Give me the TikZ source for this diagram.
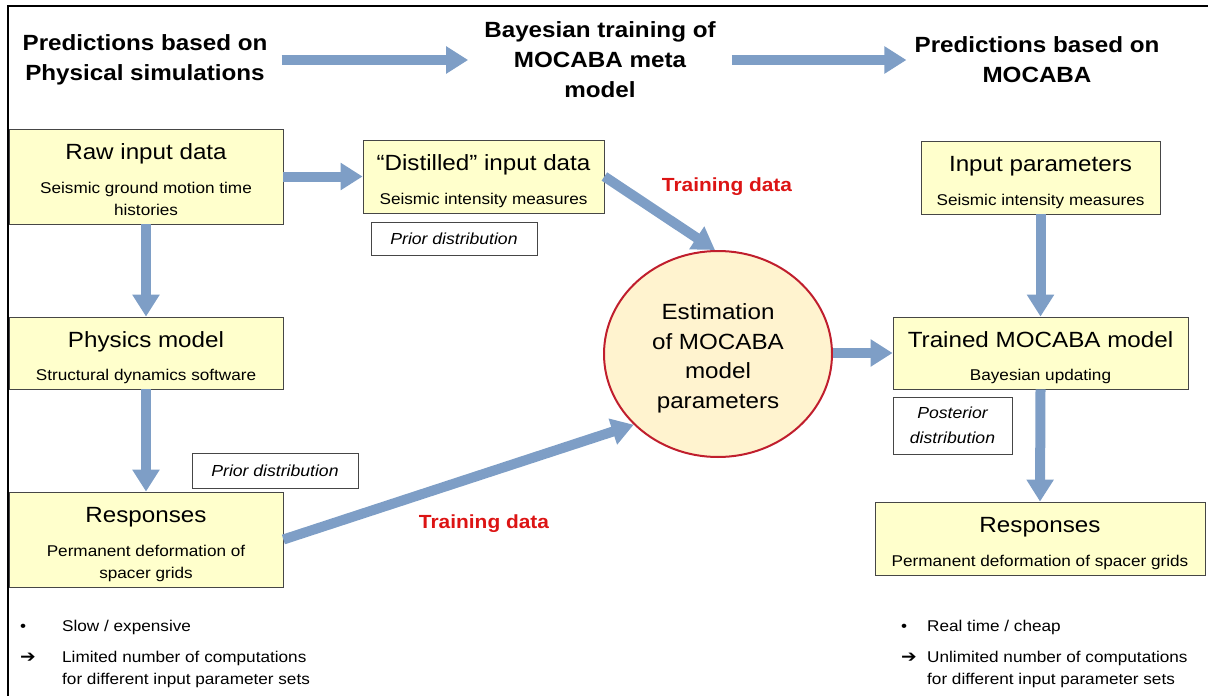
\documentclass[tikz,border=0pt]{standalone}
\usepackage{fontspec}
\setmainfont{Liberation Sans}[FakeStretch=1.1]
\newfontfamily\symfont{DejaVu Sans}[FakeStretch=1.1]
\usetikzlibrary{arrows.meta,shapes.geometric,calc}
\definecolor{boxfill}{RGB}{255,255,204}
\definecolor{circfill}{RGB}{255,243,207}
\definecolor{circline}{RGB}{192,30,45}
\definecolor{boxline}{RGB}{70,70,70}
\definecolor{arrowblue}{RGB}{126,158,198}
\definecolor{trainred}{RGB}{220,20,20}
\newcommand\ftitle{\fontsize{22}{26}\selectfont\rule{0pt}{27pt}}
\newcommand\fsub{\fontsize{15.6}{22}\selectfont}
\newcommand\fend{\rule[-5pt]{0pt}{5pt}}
\newcommand\fhead{\fontsize{22}{30}\selectfont\bfseries}
\newcommand\fital{\fontsize{16}{24}\selectfont\itshape}
\tikzset{
  box/.style={draw=boxline, fill=boxfill, line width=0.8pt, align=center, inner sep=0pt, font=\fsub},
  ibox/.style={draw=boxline, fill=white, line width=0.8pt, align=center, inner sep=0pt, font=\fital},
  flow/.style={draw=arrowblue, line width=10pt, -{Triangle[length=22pt,width=26pt]}},
  head/.style={font=\fhead, align=center, inner sep=0pt},
  train/.style={font=\fontsize{19}{22}\selectfont\bfseries, text=trainred, inner sep=0pt},
  note/.style={font=\fsub, align=left, anchor=north west, inner sep=0pt},
}
\begin{document}
\begin{tikzpicture}[x=1pt,y=-1pt]
\useasboundingbox (0,0) rectangle (1208,696);
\draw[line width=1.6pt] (8,696) -- (8,6) -- (1208,6);

% headers
\node[head] (hdr1) at (145,60) {Predictions based on\\Physical simulations};
\node[head] (hdr2) at (600,60) {Bayesian training of\\MOCABA meta\\model};
\node[head] (hdr3) at (1037,60) {Predictions based on\\MOCABA};

% left column
\node[box, minimum width=274, minimum height=95] (raw) at (146,176.5)
  {{\ftitle Raw input data}\\[11.5pt]Seismic ground motion time\\histories\fend};
\node[box, minimum width=274, minimum height=72] (phys) at (146,353)
  {{\ftitle Physics model}\\[11.5pt]Structural dynamics software\fend};
\node[box, minimum width=274, minimum height=95] (respl) at (146,539.5)
  {{\ftitle Responses}\\[11.5pt]Permanent deformation of\\spacer grids\fend};
\node[ibox, minimum width=166, minimum height=35] (prior2) at (275,470.5) {Prior distribution};

% middle
\node[box, minimum width=241, minimum height=73] (dist) at (483.5,176.5)
  {{\ftitle “Distilled” input data}\\[11.5pt]Seismic intensity measures\fend};
\node[ibox, minimum width=166, minimum height=33] (prior1) at (454,238.5) {Prior distribution};
\node[ellipse, draw=circline, fill=circfill, line width=2pt, minimum width=228, minimum height=206,
  inner sep=0pt] (est) at (718,354) {};
\node[align=center, inner sep=0pt, font=\fontsize{22}{29.5}\selectfont] (estt) at (718,358.5)
  {Estimation\\of MOCABA\\model\\parameters};
\node[train] (td1) at (727,187) {Training data};
\node[train] (td2) at (484,524) {Training data};

% right column
\node[box, minimum width=239, minimum height=73] (inp) at (1040.5,177.5)
  {{\ftitle Input parameters}\\[11.5pt]Seismic intensity measures\fend};
\node[box, minimum width=295, minimum height=72] (trained) at (1040.5,353)
  {{\ftitle Trained MOCABA model}\\[11.5pt]Bayesian updating\fend};
\node[ibox, minimum width=119, minimum height=57, font=\fontsize{16}{25}\selectfont\itshape] (post) at (952.5,425.5)
  {Posterior\\distribution};
\node[box, minimum width=330, minimum height=73] (respr) at (1040,538.5)
  {{\ftitle Responses}\\[11.5pt]Permanent deformation of spacer grids\fend};

% notes
\node[note] (nl1) at (20,620) {\makebox[42pt][l]{•}Slow / expensive};
\node[note] (nl2) at (20,651) {\makebox[42pt][l]{\symfont\fontsize{17}{21}\selectfont ➔}Limited number of computations\\\hspace*{42pt}for different input parameter sets};
\node[note] (nr1) at (901,620) {\makebox[26pt][l]{•}Real time / cheap};
\node[note] (nr2) at (901,651) {\makebox[26pt][l]{\symfont\fontsize{17}{21}\selectfont ➔}Unlimited number of computations\\\hspace*{26pt}for different input parameter sets};

% arrows
\draw[flow, shorten <=14pt, shorten >=16pt] (hdr1.east) -- (hdr1.east -| hdr2.west);
\draw[flow, shorten <=16pt, shorten >=8pt] (hdr2.east |- hdr3.west) -- (hdr3.west);
\draw[flow] (raw.east) -- (dist.west);
\draw[flow] (raw.south) -- (phys.north);
\draw[flow] (phys.south) -- (respl.north);
\draw[flow] (dist.east) -- ($(est.north)+(-3,0)$);
\draw[flow] (respl.east) -- (est.220.5);
\draw[flow] (est.east |- trained.west) -- (trained.west);
\draw[flow] (inp.south) -- (trained.north);
\draw[flow] (trained.south) -- (respr.north);
\end{tikzpicture}
\end{document}
